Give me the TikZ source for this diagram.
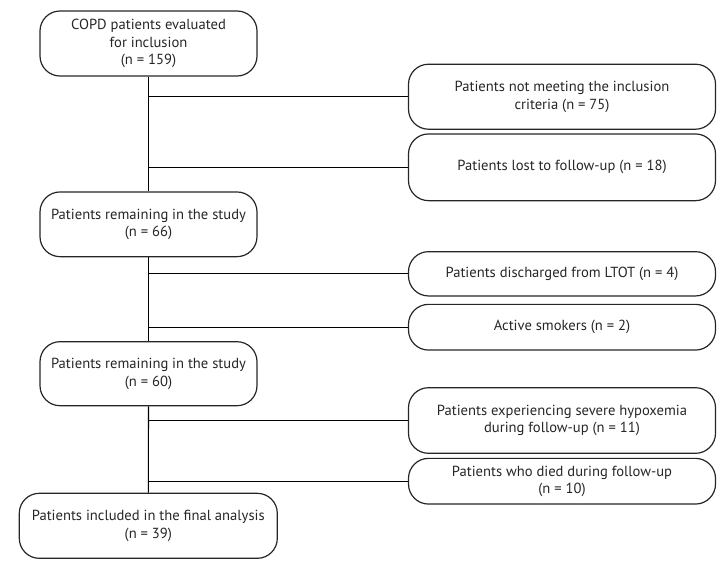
\documentclass[tikz,border=0pt]{standalone}
\usepackage{fontspec}
\setmainfont{PT Sans}
\begin{document}
\begin{tikzpicture}[x=1pt,y=-1pt,
  box/.style={draw=black!85, line width=1.2pt, rounded corners=20pt, align=center,
    text=black!85, font=\fontsize{14.6}{17.5}\selectfont, inner sep=2pt},
  lbox/.style={box, minimum width=217pt},
  rbox/.style={box, minimum width=307pt},
  conn/.style={draw=black, line width=1.1pt}]
\useasboundingbox (0,0) rectangle (719,563);
\node[lbox, minimum height=65pt] (b1) at (148.5,43.5) {COPD patients evaluated\\for inclusion\\(n = 159)};
\node[lbox, minimum height=64.7pt] (b2) at (148.5,224.3) {Patients remaining in the study\\(n = 66)};
\node[lbox, minimum height=64pt] (b3) at (148.5,373.7) {Patients remaining in the study\\(n = 60)};
\node[box, minimum width=258pt, minimum height=65pt] (b4) at (148.3,525.8) {Patients included in the final analysis\\(n = 39)};
\node[rbox, minimum height=65pt] (ra) at (562,96.7) {Patients not meeting the inclusion\\criteria (n = 75)};
\node[rbox, minimum height=66.7pt] (rb) at (562,167.3) {Patients lost to follow-up (n = 18)};
\node[rbox, minimum height=44.3pt] (rc) at (562,273.8) {Patients discharged from LTOT (n = 4)};
\node[rbox, minimum height=45.7pt] (rd) at (562,327.2) {Active smokers (n = 2)};
\node[rbox, minimum height=65.6pt] (re) at (562,420.5) {Patients experiencing severe hypoxemia\\during follow-up (n = 11)};
\node[rbox, minimum height=45.7pt] (rf) at (562,481.2) {Patients who died during follow-up\\(n = 10)};
\draw[conn] (b1.south) -- (b2.north);
\draw[conn] (b2.south) -- (b3.north);
\draw[conn] (b3.south) -- (b4.north);
\draw[conn] (b1.south |- ra.west) -- (ra.west);
\draw[conn] (b1.south |- rb.west) -- (rb.west);
\draw[conn] (b2.south |- rc.west) -- (rc.west);
\draw[conn] (b2.south |- rd.west) -- (rd.west);
\draw[conn] (b3.south |- re.west) -- (re.west);
\draw[conn] (b3.south |- rf.west) -- (rf.west);
\end{tikzpicture}
\end{document}
